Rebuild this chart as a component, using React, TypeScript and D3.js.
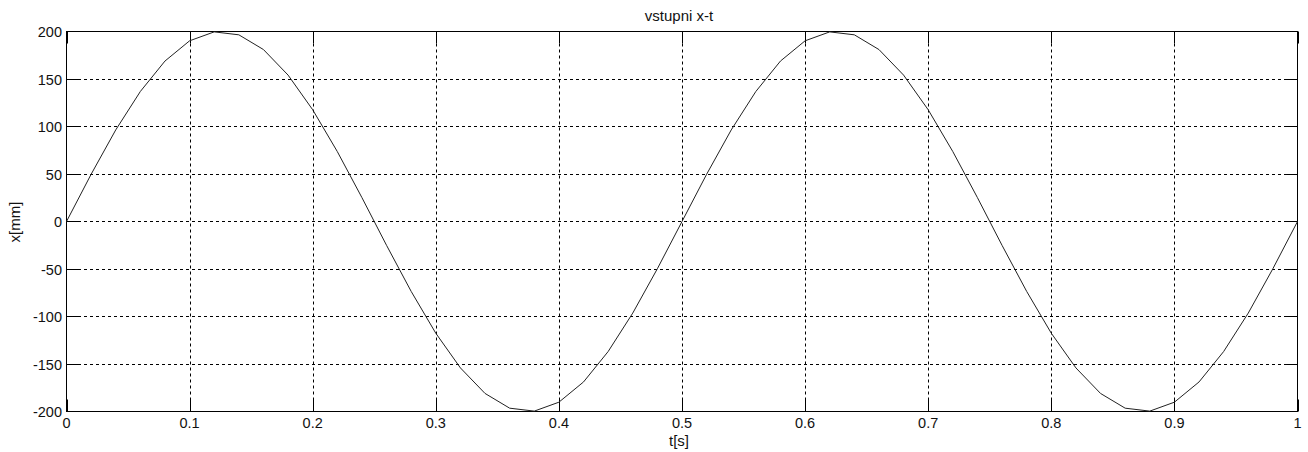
import React, { useEffect, useRef } from "react";
import * as d3 from "d3";

const timeS: number[] = [
  0, 0.02, 0.04, 0.06, 0.08, 0.1, 0.12, 0.14, 0.16, 0.18,
  0.2, 0.22, 0.24, 0.26, 0.28, 0.3, 0.32, 0.34, 0.36, 0.38,
  0.4, 0.42, 0.44, 0.46, 0.48, 0.5, 0.52, 0.54, 0.56, 0.58,
  0.6, 0.62, 0.64, 0.66, 0.68, 0.7, 0.72, 0.74, 0.76, 0.78,
  0.8, 0.82, 0.84, 0.86, 0.88, 0.9, 0.92, 0.94, 0.96, 0.98, 1.0,
];

const xMm: number[] = [
  0, 49.7, 96.4, 136.9, 168.9, 190.2, 199.6, 196.5, 181.0, 154.1,
  117.6, 73.6, 25.1, -25.1, -73.6, -117.6, -154.1, -181.0, -196.5, -199.6,
  -190.2, -168.9, -136.9, -96.4, -49.7, 0, 49.7, 96.4, 136.9, 168.9,
  190.2, 199.6, 196.5, 181.0, 154.1, 117.6, 73.6, 25.1, -25.1, -73.6,
  -117.6, -154.1, -181.0, -196.5, -199.6, -190.2, -168.9, -136.9, -96.4, -49.7, 0,
];

const xTicks: number[] = [0, 0.1, 0.2, 0.3, 0.4, 0.5, 0.6, 0.7, 0.8, 0.9, 1];
const xTickLabels: string[] = ["0", "0.1", "0.2", "0.3", "0.4", "0.5", "0.6", "0.7", "0.8", "0.9", "1"];
const yTicks: number[] = [-200, -150, -100, -50, 0, 50, 100, 150, 200];
const yTickLabels: string[] = ["-200", "-150", "-100", "-50", "0", "50", "100", "150", "200"];

const title = "vstupni x-t";
const xLabel = "t[s]";
const yLabel = "x[mm]";

const W = 1308;
const H = 452;
const L = 66, R = 1297, T = 31.5, B = 411.5;
const FONT = "'Liberation Sans', Arial, sans-serif";

export default function App() {
  const ref = useRef<SVGSVGElement>(null);

  useEffect(() => {
    const svg = d3.select(ref.current);
    svg.selectAll("*").remove();

    const x = d3.scaleLinear().domain([0, 1]).range([L + 0.5, R + 0.5]);
    const y = d3.scaleLinear().domain([-200, 200]).range([B, T]);
    const tickLen = 12;

    svg.append("rect").attr("width", W).attr("height", H).attr("fill", "#fff");

    const g = svg.append("g");

    // grid
    xTicks.forEach((t) => {
      if (t === 0 || t === 1) return;
      const px = Math.round(x(t)) + 0.5;
      g.append("line").attr("x1", px).attr("x2", px).attr("y1", T).attr("y2", B)
        .attr("stroke", "#000").attr("stroke-width", 1).attr("stroke-dasharray", "3,3");
    });
    yTicks.forEach((v) => {
      if (v === -200 || v === 200) return;
      const py = Math.round(y(v) - 0.5) + 0.5;
      g.append("line").attr("x1", L).attr("x2", R).attr("y1", py).attr("y2", py)
        .attr("stroke", "#000").attr("stroke-width", 1).attr("stroke-dasharray", "3,3");
    });

    // ticks (inside, all four sides)
    xTicks.forEach((t) => {
      const px = Math.round(x(t)) + 0.5;
      g.append("line").attr("x1", px).attr("x2", px).attr("y1", B).attr("y2", B - tickLen)
        .attr("stroke", "#000");
      g.append("line").attr("x1", px).attr("x2", px).attr("y1", T).attr("y2", T + tickLen)
        .attr("stroke", "#000");
    });
    yTicks.forEach((v) => {
      const py = Math.round(y(v) - 0.5) + 0.5;
      g.append("line").attr("x1", L + 0.5).attr("x2", L + 0.5 + tickLen).attr("y1", py).attr("y2", py)
        .attr("stroke", "#000");
      g.append("line").attr("x1", R + 0.5).attr("x2", R + 0.5 - tickLen).attr("y1", py).attr("y2", py)
        .attr("stroke", "#000");
    });

    // box
    g.append("rect").attr("x", L + 0.5).attr("y", T).attr("width", R - L).attr("height", B - T)
      .attr("fill", "none").attr("stroke", "#000").attr("stroke-width", 1);

    // curve
    const line = d3.line<number>()
      .x((_, i) => x(timeS[i]))
      .y((d) => y(d));
    g.append("path").datum(xMm).attr("d", line).attr("fill", "none")
      .attr("stroke", "#222").attr("stroke-width", 1);

    // tick labels
    xTicks.forEach((t, i) => {
      g.append("text").attr("x", x(t)).attr("y", 428)
        .attr("text-anchor", "middle").attr("font-family", FONT).attr("font-size", 14.5)
        .attr("fill", "#111").text(xTickLabels[i]);
    });
    yTicks.forEach((v, i) => {
      g.append("text").attr("x", 62).attr("y", y(v) + 5.5)
        .attr("text-anchor", "end").attr("font-family", FONT).attr("font-size", 14.5)
        .attr("fill", "#111").text(yTickLabels[i]);
    });

    // title and axis labels
    g.append("text").attr("x", 679).attr("y", 21).attr("text-anchor", "middle")
      .attr("font-family", FONT).attr("font-size", 15).attr("fill", "#111").text(title);
    g.append("text").attr("x", 679).attr("y", 446).attr("text-anchor", "middle")
      .attr("font-family", FONT).attr("font-size", 15).attr("fill", "#111").text(xLabel);
    g.append("text").attr("transform", "translate(20,222) rotate(-90)").attr("text-anchor", "middle")
      .attr("font-family", FONT).attr("font-size", 15).attr("fill", "#111").text(yLabel);
  }, []);

  return (
    <div style={{ position: "absolute", left: 0, top: 0 }}>
      <svg ref={ref} width={W} height={H} style={{ display: "block" }} />
    </div>
  );
}
